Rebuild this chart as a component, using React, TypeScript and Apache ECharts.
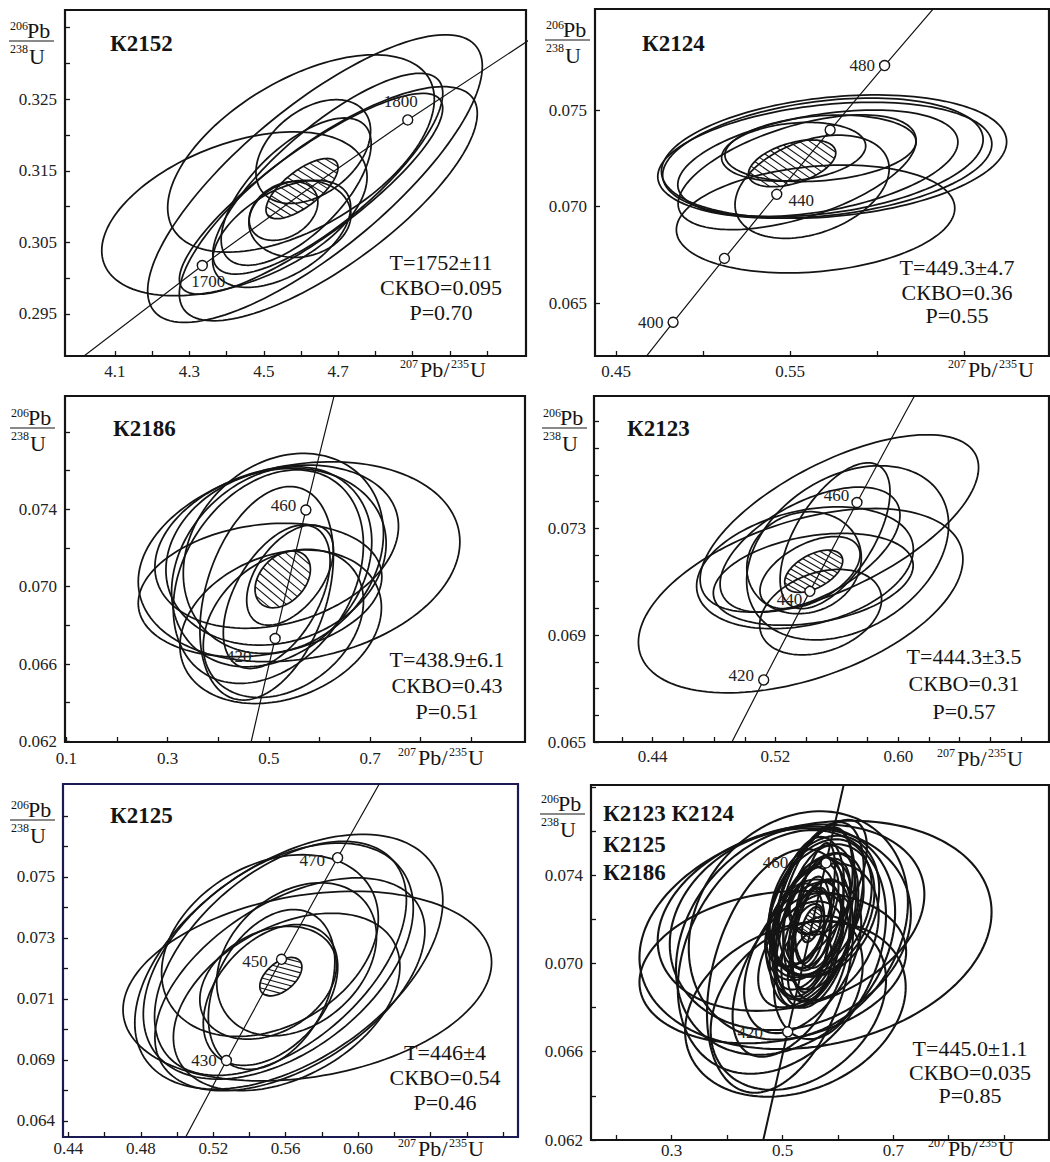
import React, { useEffect, useRef } from "react";
import * as echarts from "echarts";

// ---------------- data: ellipses are [x, y, halfWidthX, halfHeightY, rho] ----------------
const K2152_ELLIPSES = [
  [4.421, 0.309, 0.3566, 0.01145, 0.45],
  [4.6376, 0.31392, 0.4498, 0.0201, 0.78],
  [4.6, 0.31743, 0.3584, 0.01379, 0.55],
  [4.6734, 0.31041, 0.4005, 0.01636, 0.77],
  [4.672, 0.3146, 0.3091, 0.01403, 0.8],
  [4.587, 0.3121, 0.2016, 0.01029, 0.65],
  [4.548, 0.3062, 0.1855, 0.00748, 0.5],
  [4.633, 0.3177, 0.1541, 0.00725, 0.4],
  [4.553, 0.3094, 0.0923, 0.00411, 0.3],
  [4.597, 0.3083, 0.1371, 0.00538, 0.1],
  [4.627, 0.3118, 0.3539, 0.01403, 0.85],
];
const K2152_MEAN = [[4.6027, 0.31252, 0.0968, 0.00421, 0.7]];
const K2152_CONCORDIA = [[3.9306, 0.28571], [4.3347, 0.30177], [4.604, 0.3119], [4.8869, 0.32212], [5.3695, 0.33863]];
const K2152_MARKERS = [[4.3347, 0.30177], [4.8869, 0.32212]];
const K2152_AGES = ["1700", "1800"];
const K2152_STATS = ["T=1752±11", "СКВО=0.095", "P=0.70"];
const K2152_X_TICKS = [4.1, 4.2, 4.3, 4.4, 4.5, 4.6, 4.7, 4.8, 4.9, 5.0, 5.1];
const K2152_X_LABEL_VALUES = [4.1, 4.3, 4.5, 4.7];
const K2152_X_LABELS = ["4.1", "4.3", "4.5", "4.7"];
const K2152_Y_TICKS = [0.295, 0.3, 0.305, 0.31, 0.315, 0.32, 0.325, 0.33, 0.335];
const K2152_Y_LABEL_VALUES = [0.295, 0.305, 0.315, 0.325];
const K2152_Y_LABELS = ["0.295", "0.305", "0.315", "0.325"];

const K2124_ELLIPSES = [
  [0.5753, 0.07259, 0.0992, 0.00319, 0.24],
  [0.5689, 0.07255, 0.0921, 0.00307, 0.3],
  [0.57, 0.0724, 0.096, 0.003, 0.28],
  [0.566, 0.07224, 0.0805, 0.00276, 0.4],
  [0.5541, 0.07178, 0.0684, 0.00297, 0.55],
  [0.5647, 0.06936, 0.08, 0.00279, 0.2],
  [0.5675, 0.07302, 0.0549, 0.00172, 0.2],
  [0.5627, 0.07103, 0.0443, 0.00267, 0.35],
  [0.5521, 0.07284, 0.0414, 0.00152, 0.2],
];
const K2124_MEAN = [[0.5512, 0.07224, 0.0251, 0.00121, 0.45]];
const K2124_CONCORDIA = [[0.43966, 0.059075], [0.48281, 0.064016], [0.51231, 0.067322], [0.54239, 0.070638], [0.57307, 0.073965], [0.60436, 0.077303], [0.63628, 0.08065]];
const K2124_MARKERS = [[0.48281, 0.064016], [0.51231, 0.067322], [0.54239, 0.070638], [0.57307, 0.073965], [0.60436, 0.077303]];
const K2124_AGES = ["400", "", "440", "", "480"];
const K2124_STATS = ["T=449.3±4.7", "СКВО=0.36", "P=0.55"];
const K2124_X_TICKS = [0.45, 0.5, 0.55, 0.6, 0.65];
const K2124_X_LABEL_VALUES = [0.45, 0.55];
const K2124_X_LABELS = ["0.45", "0.55"];
const K2124_Y_TICKS = [0.065, 0.07, 0.075];
const K2124_Y_LABEL_VALUES = [0.065, 0.07, 0.075];
const K2124_Y_LABELS = ["0.065", "0.070", "0.075"];

const K2186_ELLIPSES = [
  [0.5596, 0.07129, 0.3178, 0.00517, 0.2],
  [0.5154, 0.07207, 0.2407, 0.00422, 0.25],
  [0.5141, 0.07155, 0.2176, 0.00457, 0.15],
  [0.5055, 0.07103, 0.1978, 0.00517, 0.25],
  [0.4989, 0.07052, 0.1879, 0.00552, 0.3],
  [0.4956, 0.06966, 0.1319, 0.00552, 0.35],
  [0.5154, 0.06948, 0.1055, 0.00371, 0.5],
  [0.5233, 0.06793, 0.1991, 0.00397, 0.25],
  [0.5286, 0.0681, 0.1583, 0.00383, 0.3],
  [0.5418, 0.0706, 0.0857, 0.00259, 0.5],
  [0.4825, 0.06983, 0.2407, 0.00345, 0.2],
  [0.5286, 0.07172, 0.1978, 0.00517, 0.2],
];
const K2186_MEAN = [[0.5273, 0.07038, 0.0547, 0.00147, 0.35]];
const K2186_CONCORDIA = [[0.45389, 0.06072], [0.48281, 0.064016], [0.51231, 0.067322], [0.54239, 0.070638], [0.57307, 0.073965], [0.60436, 0.077303], [0.63628, 0.08065]];
const K2186_MARKERS = [[0.51231, 0.067322], [0.57307, 0.073965]];
const K2186_AGES = ["420", "460"];
const K2186_STATS = ["T=438.9±6.1", "СКВО=0.43", "P=0.51"];
const K2186_X_TICKS = [0.1, 0.2, 0.3, 0.4, 0.5, 0.6, 0.7, 0.8, 0.9];
const K2186_X_LABEL_VALUES = [0.1, 0.3, 0.5, 0.7];
const K2186_X_LABELS = ["0.1", "0.3", "0.5", "0.7"];
const K2186_Y_TICKS = [0.062, 0.064, 0.066, 0.068, 0.07, 0.072, 0.074, 0.076, 0.078];
const K2186_Y_LABEL_VALUES = [0.062, 0.066, 0.07, 0.074];
const K2186_Y_LABELS = ["0.062", "0.066", "0.070", "0.074"];

const K2123_ELLIPSES = [
  [0.5616, 0.07318, 0.0907, 0.00332, 0.63],
  [0.5364, 0.07029, 0.1057, 0.00345, 0.45],
  [0.5588, 0.07272, 0.0358, 0.00273, 0.6],
  [0.567, 0.07208, 0.0658, 0.00326, 0.32],
  [0.5425, 0.0722, 0.0586, 0.00234, 0.55],
  [0.5392, 0.07152, 0.0706, 0.00228, 0.3],
  [0.5446, 0.07109, 0.0651, 0.00172, 0.3],
  [0.5494, 0.06986, 0.0397, 0.0016, 0.3],
  [0.5425, 0.07134, 0.0326, 0.00135, 0.5],
  [0.5386, 0.07171, 0.0373, 0.00191, 0.1],
];
const K2123_MEAN = [[0.5449, 0.07139, 0.0189, 0.00079, 0.5]];
const K2123_CONCORDIA = [[0.45389, 0.06072], [0.48281, 0.064016], [0.51231, 0.067322], [0.54239, 0.070638], [0.57307, 0.073965], [0.60436, 0.077303], [0.63628, 0.08065]];
const K2123_MARKERS = [[0.51231, 0.067322], [0.54239, 0.070638], [0.57307, 0.073965]];
const K2123_AGES = ["420", "440", "460"];
const K2123_STATS = ["T=444.3±3.5", "СКВО=0.31", "P=0.57"];
const K2123_X_TICKS = [0.42, 0.44, 0.46, 0.48, 0.5, 0.52, 0.54, 0.56, 0.58, 0.6, 0.62, 0.64, 0.66, 0.68];
const K2123_X_LABEL_VALUES = [0.44, 0.52, 0.6];
const K2123_X_LABELS = ["0.44", "0.52", "0.60"];
const K2123_Y_TICKS = [0.065, 0.066, 0.067, 0.068, 0.069, 0.07, 0.071, 0.072, 0.073, 0.074, 0.075, 0.076, 0.077];
const K2123_Y_LABEL_VALUES = [0.065, 0.069, 0.073];
const K2123_Y_LABELS = ["0.065", "0.069", "0.073"];

const K2125_ELLIPSES = [
  [0.5719, 0.07142, 0.1017, 0.00311, 0.25],
  [0.5617, 0.07222, 0.085, 0.00418, 0.48],
  [0.5559, 0.07224, 0.0745, 0.00387, 0.45],
  [0.5571, 0.07233, 0.0695, 0.00384, 0.5],
  [0.5513, 0.07275, 0.0598, 0.00298, 0.3],
  [0.5623, 0.07148, 0.0745, 0.00349, 0.5],
  [0.5605, 0.0709, 0.0625, 0.00291, 0.4],
  [0.5516, 0.07113, 0.0371, 0.00231, 0.4],
  [0.5522, 0.07131, 0.0349, 0.00262, 0.35],
  [0.566, 0.0723, 0.0441, 0.00251, 0.3],
  [0.5503, 0.07153, 0.0377, 0.00185, 0.3],
];
const K2125_MEAN = [[0.5573, 0.07173, 0.0116, 0.00063, 0.5]];
const K2125_CONCORDIA = [[0.48281, 0.064016], [0.52727, 0.068979], [0.55766, 0.0723], [0.58864, 0.075633], [0.63628, 0.08065]];
const K2125_MARKERS = [[0.52727, 0.068979], [0.55766, 0.0723], [0.58864, 0.075633]];
const K2125_AGES = ["430", "450", "470"];
const K2125_STATS = ["T=446±4", "СКВО=0.54", "P=0.46"];
const K2125_X_TICKS = [0.44, 0.46, 0.48, 0.5, 0.52, 0.54, 0.56, 0.58, 0.6, 0.62, 0.64, 0.66, 0.68];
const K2125_X_LABEL_VALUES = [0.44, 0.48, 0.52, 0.56, 0.6];
const K2125_X_LABELS = ["0.44", "0.48", "0.52", "0.56", "0.60"];
const K2125_Y_TICKS = [0.067, 0.068, 0.069, 0.07, 0.071, 0.072, 0.073, 0.074, 0.075, 0.076, 0.077];
const K2125_Y_LABEL_VALUES = [0.067, 0.069, 0.071, 0.073, 0.075];
const K2125_Y_LABELS = ["0.064", "0.069", "0.071", "0.073", "0.075"];

const ALL_ELLIPSES = [...K2124_ELLIPSES, ...K2186_ELLIPSES, ...K2123_ELLIPSES, ...K2125_ELLIPSES];
const ALL_MEAN = [[0.5527, 0.07176, 0.018, 0.0008, 0.5]];
const ALL_CONCORDIA = [[0.4608, 0.0615], [0.5094, 0.0669], [0.5785, 0.07455], [0.625, 0.0797]];
const ALL_MARKERS = [[0.5094, 0.0669], [0.5785, 0.07455]];
const ALL_AGES = ["420", "460"];
const ALL_STATS = ["T=445.0±1.1", "СКВО=0.035", "P=0.85"];
const ALL_X_TICKS = [0.2, 0.3, 0.4, 0.5, 0.6, 0.7, 0.8, 0.9];
const ALL_X_LABEL_VALUES = [0.3, 0.5, 0.7];
const ALL_X_LABELS = ["0.3", "0.5", "0.7"];
const ALL_Y_TICKS = [0.062, 0.064, 0.066, 0.068, 0.07, 0.072, 0.074, 0.076, 0.078];
const ALL_Y_LABEL_VALUES = [0.062, 0.066, 0.07, 0.074];
const ALL_Y_LABELS = ["0.062", "0.066", "0.070", "0.074"];

// ---------------- layout / style ----------------
const SERIF = '"Liberation Serif", "Times New Roman", serif';
const INK = "#141414";

const PANELS: any[] = [
  {
    rect: [65, 10, 461, 346], border: INK,
    x: { min: 3.9656, max: 5.2048, ticks: K2152_X_TICKS, lv: K2152_X_LABEL_VALUES, lt: K2152_X_LABELS, margin: 7 },
    y: { min: 0.28913, max: 0.33748, ticks: K2152_Y_TICKS, lv: K2152_Y_LABEL_VALUES, lt: K2152_Y_LABELS },
    ell: K2152_ELLIPSES, mean: K2152_MEAN, conc: K2152_CONCORDIA, markers: K2152_MARKERS, ages: K2152_AGES,
    lpos: [["bottom", [6, -2]], ["top", [-7, 0]]],
    hatch: { angle: 32, gap: 6 }, lw: 1.75, clw: 1.2,
    titles: [["К2152", 110, 43]], stats: K2152_STATS, sx: 441, sy: [262, 287, 312],
    xt: [400, 377], yt: [9, 41],
  },
  {
    rect: [595, 9, 454, 347], border: INK,
    x: { min: 0.43793, max: 0.69885, ticks: K2124_X_TICKS, lv: K2124_X_LABEL_VALUES, lt: K2124_X_LABELS, margin: 7 },
    y: { min: 0.06227, max: 0.08023, ticks: K2124_Y_TICKS, lv: K2124_Y_LABEL_VALUES, lt: K2124_Y_LABELS },
    ell: K2124_ELLIPSES, mean: K2124_MEAN, conc: K2124_CONCORDIA, markers: K2124_MARKERS, ages: K2124_AGES,
    lpos: [["left", [0, 0]], null, ["right", [2, 6]], null, ["left", [0, 0]]],
    hatch: { angle: 35, gap: 6 }, lw: 1.75, clw: 1.2,
    titles: [["К2124", 642, 43]], stats: K2124_STATS, sx: 957, sy: [267, 292, 315],
    xt: [948, 377], yt: [545, 40],
  },
  {
    rect: [65, 396, 460, 346], border: INK,
    x: { min: 0.09704, max: 1.0061, ticks: K2186_X_TICKS, lv: K2186_X_LABEL_VALUES, lt: K2186_X_LABELS, margin: 8 },
    y: { min: 0.06197, max: 0.07986, ticks: K2186_Y_TICKS, lv: K2186_Y_LABEL_VALUES, lt: K2186_Y_LABELS },
    ell: K2186_ELLIPSES, mean: K2186_MEAN, conc: K2186_CONCORDIA, markers: K2186_MARKERS, ages: K2186_AGES,
    lpos: [["left", [-14, 18]], ["left", [0, -5]]],
    hatch: { angle: 40, gap: 6.5 }, lw: 1.75, clw: 1.2,
    titles: [["К2186", 113, 428]], stats: K2186_STATS, sx: 447, sy: [659, 685, 711],
    xt: [398, 765], yt: [10, 428],
  },
  {
    rect: [594, 396, 455, 346], border: INK,
    x: { min: 0.40176, max: 0.69818, ticks: K2123_X_TICKS, lv: K2123_X_LABEL_VALUES, lt: K2123_X_LABELS, margin: 6 },
    y: { min: 0.065, max: 0.07795, ticks: K2123_Y_TICKS, lv: K2123_Y_LABEL_VALUES, lt: K2123_Y_LABELS },
    ell: K2123_ELLIPSES, mean: K2123_MEAN, conc: K2123_CONCORDIA, markers: K2123_MARKERS, ages: K2123_AGES,
    lpos: [["left", [0, -4]], ["left", [2, 8]], ["left", [2, -7]]],
    hatch: { angle: 30, gap: 5 }, lw: 1.75, clw: 1.2,
    titles: [["К2123", 627, 428]], stats: K2123_STATS, sx: 964, sy: [656, 683, 711],
    xt: [937, 766], yt: [542, 428],
  },
  {
    rect: [63, 784, 455, 353], border: "#1c1a52",
    x: { min: 0.43708, max: 0.68818, ticks: K2125_X_TICKS, lv: K2125_X_LABEL_VALUES, lt: K2125_X_LABELS, margin: 3 },
    y: { min: 0.06647, max: 0.07805, ticks: K2125_Y_TICKS, lv: K2125_Y_LABEL_VALUES, lt: K2125_Y_LABELS },
    ell: K2125_ELLIPSES, mean: K2125_MEAN, conc: K2125_CONCORDIA, markers: K2125_MARKERS, ages: K2125_AGES,
    lpos: [["left", [0, 0]], ["left", [-4, 2]], ["left", [-3, 3]]],
    hatch: { angle: 15, gap: 5 }, lw: 1.75, clw: 1.2,
    titles: [["К2125", 110, 815]], stats: K2125_STATS, sx: 445, sy: [1052, 1077, 1102],
    xt: [398, 1156], yt: [10, 820],
  },
  {
    rect: [591, 785, 458, 355], border: INK,
    x: { min: 0.15433, max: 0.98105, ticks: ALL_X_TICKS, lv: ALL_X_LABEL_VALUES, lt: ALL_X_LABELS, margin: 2 },
    y: { min: 0.062, max: 0.07808, ticks: ALL_Y_TICKS, lv: ALL_Y_LABEL_VALUES, lt: ALL_Y_LABELS },
    ell: ALL_ELLIPSES, mean: ALL_MEAN, conc: ALL_CONCORDIA, markers: ALL_MARKERS, ages: ALL_AGES,
    lpos: [["left", [-15, 1]], ["left", [-28, 0]]],
    hatch: { angle: 35, gap: 3.5 }, lw: 2.1, clw: 2.0,
    titles: [["К2123 К2124", 603, 813], ["К2125", 603, 844], ["К2186", 603, 872]], stats: ALL_STATS, sx: 970, sy: [1048, 1072, 1095],
    xt: [928, 1156], yt: [540, 814],
  },
];

const makeFormatter = (vals: number[], texts: string[]) => (v: number) => {
  const i = vals.findIndex((w) => Math.abs(w - v) < 1e-7);
  return i >= 0 ? texts[i] : "";
};

const makeEllipseRenderer = (lw: number, hatch?: { angle: number; gap: number }) => (params: any, api: any) => {
  const cx = api.value(0), cy = api.value(1), sx = api.value(2), sy = api.value(3), r = api.value(4);
  const q = Math.sqrt(Math.max(0, 1 - r * r));
  const C = api.coord([cx, cy]);
  const A = api.coord([cx + sx, cy + r * sy]);
  const B = api.coord([cx, cy + q * sy]);
  const U = [A[0] - C[0], A[1] - C[1]];
  const V = [B[0] - C[0], B[1] - C[1]];
  const P = (t: number) => [C[0] + U[0] * Math.cos(t) + V[0] * Math.sin(t), C[1] + U[1] * Math.cos(t) + V[1] * Math.sin(t)];
  const pts: number[][] = [];
  const N = 144;
  for (let i = 0; i < N; i++) pts.push(P((i / N) * Math.PI * 2));
  const children: any[] = [
    { type: "polygon", shape: { points: pts }, style: { fill: "none", stroke: INK, lineWidth: lw } },
  ];
  if (hatch) {
    const a = (hatch.angle * Math.PI) / 180;
    const n = [-Math.sin(a), Math.cos(a)];
    const na = n[0] * U[0] + n[1] * U[1];
    const nb = n[0] * V[0] + n[1] * V[1];
    const R = Math.hypot(na, nb);
    const phi = Math.atan2(nb, na);
    for (let k = -R + hatch.gap * 0.6; k < R - 0.5; k += hatch.gap) {
      const c = Math.acos(Math.max(-1, Math.min(1, k / R)));
      const p1 = P(phi + c);
      const p2 = P(phi - c);
      children.push({ type: "line", shape: { x1: p1[0], y1: p1[1], x2: p2[0], y2: p2[1] }, style: { stroke: INK, lineWidth: 1.1 } });
    }
  }
  return { type: "group", children };
};

const txt = (text: string, x: number, y: number, size: number, opts: any = {}) => ({
  type: "text",
  x,
  y,
  silent: true,
  z: 50,
  style: {
    text,
    font: `${opts.bold ? "bold " : ""}${size}px ${SERIF}`,
    fill: opts.color || INK,
    align: opts.align || "left",
    textAlign: opts.align || "left",
    verticalAlign: "middle",
    textVerticalAlign: "middle",
  },
});

function buildOption() {
  const grid: any[] = [];
  const xAxis: any[] = [];
  const yAxis: any[] = [];
  const series: any[] = [];
  const elements: any[] = [];

  PANELS.forEach((p, i) => {
    grid.push({
      left: p.rect[0], top: p.rect[1], width: p.rect[2], height: p.rect[3],
      show: true, borderColor: p.border, borderWidth: 2.2, backgroundColor: "transparent",
      containLabel: false, outerBoundsMode: "none",
    });
    const axisCommon = (ax: any, isX: boolean) => ({
      type: "value",
      gridIndex: i,
      min: ax.min,
      max: ax.max,
      axisLine: { show: false, onZero: false },
      splitLine: { show: false },
      axisTick: { show: true, inside: true, length: 5, customValues: ax.ticks, lineStyle: { color: INK, width: 1.3 } },
      axisLabel: {
        show: true,
        customValues: ax.lv,
        formatter: makeFormatter(ax.lv, ax.lt),
        margin: isX ? ax.margin : 8,
        fontFamily: SERIF,
        fontSize: 17,
        color: "#222",
        hideOverlap: false,
      },
    });
    xAxis.push(axisCommon(p.x, true));
    yAxis.push(axisCommon(p.y, false));

    series.push({
      type: "custom", xAxisIndex: i, yAxisIndex: i, clip: true, silent: true, z: 2,
      renderItem: makeEllipseRenderer(p.lw),
      data: p.ell,
    });
    series.push({
      type: "custom", xAxisIndex: i, yAxisIndex: i, clip: true, silent: true, z: 3,
      renderItem: makeEllipseRenderer(p.lw, p.hatch),
      data: p.mean,
    });
    series.push({
      type: "line", xAxisIndex: i, yAxisIndex: i, clip: true, silent: true, z: 4,
      showSymbol: false, symbol: "none",
      lineStyle: { color: INK, width: p.clw },
      data: p.conc,
    });
    series.push({
      type: "scatter", xAxisIndex: i, yAxisIndex: i, silent: true, z: 6,
      symbol: "circle", symbolSize: 10,
      itemStyle: { color: "#fff", borderColor: INK, borderWidth: 1.4, opacity: 1 },
      data: p.markers.map((m: number[], j: number) => {
        const lp = p.lpos[j];
        return {
          value: m,
          name: p.ages[j],
          label: lp
            ? { show: true, position: lp[0], offset: lp[1], distance: 4, formatter: "{b}", fontFamily: SERIF, fontSize: 17, color: "#222" }
            : { show: false },
        };
      }),
    });

    p.titles.forEach((t: any) => elements.push(txt(t[0], t[1], t[2], 23, { bold: true })));
    p.stats.forEach((s: string, k: number) => elements.push(txt(s, p.sx, p.sy[k], 22, { align: "center" })));
    const [x0, b] = p.xt;
    elements.push(txt("207", x0, b - 13.5, 12));
    elements.push(txt("Pb", x0 + 20, b - 7.5, 22));
    elements.push(txt("/", x0 + 43.5, b - 7.5, 22));
    elements.push(txt("235", x0 + 51, b - 13.5, 12));
    elements.push(txt("U", x0 + 70, b - 7.5, 22));
    const [bx, by] = p.yt;
    elements.push(txt("206", bx + 1, by - 15, 12));
    elements.push(txt("Pb", bx + 18, by - 10.5, 22));
    elements.push({ type: "line", silent: true, z: 50, shape: { x1: bx, y1: by, x2: bx + 45, y2: by }, style: { stroke: INK, lineWidth: 1.1 } });
    elements.push(txt("238", bx + 1, by + 8, 12));
    elements.push(txt("U", bx + 20, by + 15.5, 22));
  });

  return {
    animation: false,
    backgroundColor: "#ffffff",
    grid,
    xAxis,
    yAxis,
    series,
    graphic: { elements },
  };
}

export default function App() {
  const ref = useRef<HTMLDivElement>(null);
  useEffect(() => {
    document.body.style.margin = "0";
    const chart = echarts.init(ref.current as HTMLDivElement, null, { renderer: "svg", width: 1050, height: 1162 });
    chart.setOption(buildOption() as any);
    return () => chart.dispose();
  }, []);
  return <div ref={ref} style={{ width: 1050, height: 1162, position: "absolute", left: 0, top: 0 }} />;
}
